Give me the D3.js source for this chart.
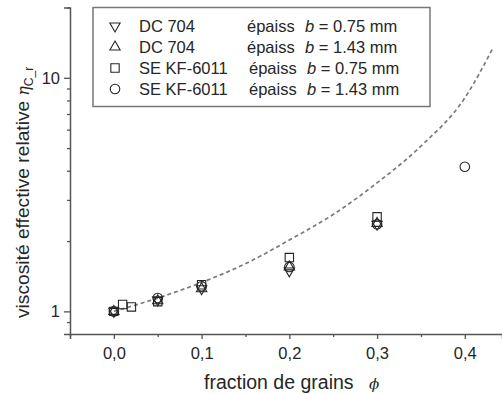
<!DOCTYPE html>
<html>
<head>
<meta charset="utf-8">
<script src="https://cdnjs.cloudflare.com/ajax/libs/d3/7.8.5/d3.min.js"></script>
<style>
body { margin: 0; background: #fff; }
svg { display: block; font-family: "Liberation Sans", Arial, sans-serif; }
</style>
</head>
<body>
<script>
// values
var phiDC075 = [0, 0.05, 0.1, 0.2, 0.3];
var etaDC075 = [1.0, 1.12, 1.25, 1.49, 2.36];
var phiDC143 = [0, 0.05, 0.1, 0.2, 0.3];
var etaDC143 = [1.0, 1.11, 1.25, 1.55, 2.38];
var phiSE075 = [0, 0.01, 0.02, 0.05, 0.1, 0.2, 0.3];
var etaSE075 = [1.0, 1.07, 1.045, 1.10, 1.30, 1.70, 2.54];
var phiSE143 = [0, 0.05, 0.1, 0.2, 0.3, 0.4];
var etaSE143 = [1.0, 1.14, 1.28, 1.55, 2.36, 4.16];

// dashed model curve
var fitPhi = [0, 0.05, 0.1, 0.15, 0.2, 0.25, 0.3, 0.35, 0.4, 0.432];
var fitEta = [1.0, 1.14, 1.33, 1.6, 2.02, 2.6, 3.55, 5.1, 8.2, 13.4];

var xMajor = [0, 0.1, 0.2, 0.3, 0.4];
var xMinor = [-0.05, 0.05, 0.15, 0.25, 0.35];
var yMajor = [1, 10];
var yMinor = [0.9, 2, 3, 4, 5, 6, 7, 8, 9, 20];

var fluids = ["DC 704", "DC 704", "SE KF-6011", "SE KF-6011"];
var thick = ["0.75", "1.43", "0.75", "1.43"];

var width = 502, height = 394;
var ink = "#262626";

var svg = d3.select("body").append("svg")
    .attr("width", width)
    .attr("height", height);

var x = d3.scaleLinear().domain([-0.05, 0.4424]).range([70, 502]);
var y = d3.scaleLog().domain([0.8, 20]).range([334, 7.5]);

// axes
var fmt = function (d) { return d3.format(".1f")(d).replace(".", ","); };

svg.append("g")
    .attr("transform", "translate(0,334)")
    .call(d3.axisBottom(x).tickValues(xMajor).tickSize(5).tickPadding(8).tickFormat(fmt));
svg.append("g")
    .attr("transform", "translate(0,334)")
    .call(d3.axisBottom(x).tickValues(xMinor).tickSize(3).tickFormat(""))
    .select(".domain").remove();

svg.append("g")
    .attr("transform", "translate(70,0)")
    .call(d3.axisLeft(y).tickValues(yMajor).tickSize(6).tickPadding(4).tickFormat(d3.format("d")));
svg.append("g")
    .attr("transform", "translate(70,0)")
    .call(d3.axisLeft(y).tickValues(yMinor).tickSize(3).tickFormat(""))
    .select(".domain").remove();

svg.selectAll(".domain").attr("stroke", "#555").attr("stroke-width", 1.5);
svg.selectAll(".tick line").attr("stroke", "#555").attr("stroke-width", 1.3);
svg.selectAll(".tick text").attr("fill", ink).style("font-size", "16.5px");

// dashed curve
var line = d3.line()
    .x(function (d, i) { return x(fitPhi[i]); })
    .y(function (d, i) { return y(fitEta[i]); })
    .curve(d3.curveMonotoneX);

svg.append("path")
    .attr("d", line(fitPhi))
    .attr("fill", "none")
    .attr("stroke", "#7a7a7a")
    .attr("stroke-width", 1.7)
    .attr("stroke-dasharray", "4,3");

// markers
var triUp = d3.symbol().type(d3.symbolTriangle).size(46);
var square = d3.symbol().type(d3.symbolSquare).size(70);
var circle = d3.symbol().type(d3.symbolCircle).size(72);

var series = [
    {phi: phiDC075, eta: etaDC075, sym: triUp, rot: 180},
    {phi: phiDC143, eta: etaDC143, sym: triUp, rot: 0},
    {phi: phiSE075, eta: etaSE075, sym: square, rot: 0},
    {phi: phiSE143, eta: etaSE143, sym: circle, rot: 0}
];

series.forEach(function (s) {
    svg.append("g").selectAll("path")
        .data(s.phi)
        .enter().append("path")
        .attr("d", s.sym())
        .attr("transform", function (d, i) {
            return "translate(" + x(d) + "," + y(s.eta[i]) + ") rotate(" + s.rot + ")";
        })
        .attr("fill", "none")
        .attr("stroke", ink)
        .attr("stroke-width", 1.1);
});

// legend
var leg = svg.append("g");
leg.append("rect")
    .attr("x", 93).attr("y", 7.5)
    .attr("width", 337).attr("height", 99)
    .attr("fill", "#fff")
    .attr("stroke", "#777")
    .attr("stroke-width", 1.5);

var rowY = d3.scaleLinear().domain([0, 3]).range([26, 89]);

series.forEach(function (s, i) {
    var cy = rowY(i);
    leg.append("path")
        .attr("d", s.sym())
        .attr("transform", "translate(115," + cy + ") rotate(" + s.rot + ")")
        .attr("fill", "none")
        .attr("stroke", ink)
        .attr("stroke-width", 1.1);
    leg.append("text")
        .attr("x", 139).attr("y", cy + 6)
        .attr("fill", ink)
        .style("font-size", "16.5px")
        .text(fluids[i]);
    var shift = i < 2 ? 0 : 2;
    var t = leg.append("text")
        .attr("x", 247 + shift).attr("y", cy + 6)
        .attr("fill", ink)
        .style("font-size", "16.5px");
    t.append("tspan").text("épaiss");
    t.append("tspan").attr("x", 305 + shift).style("font-style", "italic").text("b");
    t.append("tspan").text(" = " + thick[i] + " mm");
});

// axis titles
var xt = svg.append("text")
    .attr("x", 204).attr("y", 389)
    .attr("fill", ink)
    .style("font-size", "19.5px");
xt.append("tspan").text("fraction de grains");
xt.append("tspan").attr("x", 369).style("font-style", "italic")
    .style("font-family", "DejaVu Serif, serif").style("font-size", "15px").text("ϕ");

var yt = svg.append("text")
    .attr("transform", "translate(29,318) rotate(-90)")
    .attr("fill", ink)
    .style("font-size", "19.2px");
yt.append("tspan").text("viscosité effective relative");
yt.append("tspan").attr("dx", 5).style("font-style", "italic")
    .style("font-family", "DejaVu Serif, serif").style("font-size", "16px").text("η");
yt.append("tspan").attr("dy", 4).style("font-size", "12px").text("C_r");
</script>
</body>
</html>
